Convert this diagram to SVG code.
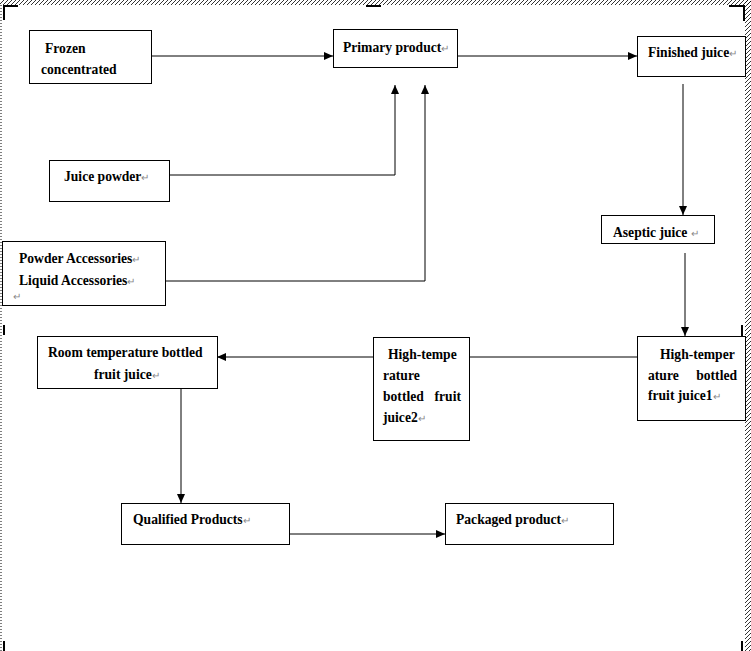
<svg xmlns="http://www.w3.org/2000/svg" width="751" height="651" viewBox="0 0 751 651">
<defs>
<marker id="ah" markerWidth="10" markerHeight="8" refX="9" refY="4" orient="auto" markerUnits="userSpaceOnUse">
<path d="M0,0 L9,4 L0,8 Z" fill="#000"/>
</marker>
<pattern id="hatch" width="4" height="4" patternUnits="userSpaceOnUse">
<path d="M0,4 L4,0" stroke="#000" stroke-width="0.8"/>
</pattern>
</defs>
<style>
.box{fill:#fff;stroke:#000;stroke-width:1}
.t{font-family:"Liberation Serif","Times New Roman",serif;font-size:13.6px;font-weight:bold;fill:#000}
.pm{font-weight:normal;fill:#888;font-size:10px}
.c{fill:none;stroke:#000;stroke-width:1}
.h{fill:#000}
</style>
<rect width="751" height="651" fill="#fff"/>
<g id="frame">
<rect x="0" y="0" width="751" height="5" fill="url(#hatch)"/>
<rect x="745" y="0" width="6" height="651" fill="url(#hatch)"/>
<line x1="1" y1="5" x2="1" y2="651" stroke="#000" stroke-width="1" stroke-dasharray="1,2"/>
<path class="h" d="M3,5 h15 v2 h-13 v13 h-2 Z"/>
<rect class="h" x="366" y="5" width="15" height="2"/>
<path class="h" d="M729,5 h16 v16 h-2 v-14 h-14 Z"/>
<rect class="h" x="3" y="325" width="2" height="10"/>
<rect class="h" x="741" y="325" width="2" height="12"/>
<rect class="h" x="3" y="641" width="2" height="10"/>
<rect class="h" x="741" y="641" width="2" height="10"/>
</g>
<g id="connectors">
<line class="c" x1="151" y1="56" x2="333" y2="56" marker-end="url(#ah)"/>
<line class="c" x1="457" y1="56" x2="637" y2="56" marker-end="url(#ah)"/>
<polyline class="c" points="169,175 395,175 395,85" marker-end="url(#ah)"/>
<polyline class="c" points="165,281 425,281 425,85" marker-end="url(#ah)"/>
<line class="c" x1="683" y1="84" x2="683" y2="215" marker-end="url(#ah)"/>
<line class="c" x1="685" y1="253" x2="685" y2="336" marker-end="url(#ah)"/>
<line class="c" x1="469" y1="357" x2="637" y2="357"/>
<line class="c" x1="373" y1="357" x2="217" y2="357" marker-end="url(#ah)"/>
<line class="c" x1="181" y1="388" x2="181" y2="503" marker-end="url(#ah)"/>
<line class="c" x1="289" y1="534" x2="445" y2="534" marker-end="url(#ah)"/>
</g>
<g id="frozen">
<rect class="box" x="29.5" y="30.5" width="122" height="53"/>
<text class="t" x="45" y="53">Frozen</text>
<text class="t" x="41" y="74">concentrated</text>
</g>
<g id="primary">
<rect class="box" x="333.5" y="29.5" width="124" height="38"/>
<text class="t" x="343" y="52">Primary product<tspan class="pm">↵</tspan></text>
</g>
<g id="finished">
<rect class="box" x="637.5" y="36.5" width="108" height="40"/>
<text class="t" x="648" y="57">Finished juice<tspan class="pm">↵</tspan></text>
</g>
<g id="powder">
<rect class="box" x="49.5" y="160.5" width="120" height="41"/>
<text class="t" x="64" y="181">Juice powder<tspan class="pm">↵</tspan></text>
</g>
<g id="accessories">
<rect class="box" x="2.5" y="241.5" width="163" height="64"/>
<text class="t" x="19" y="263">Powder Accessories<tspan class="pm">↵</tspan></text>
<text class="t" x="19" y="285">Liquid Accessories<tspan class="pm">↵</tspan></text>
<text class="t pm" x="13" y="300" font-size="7">↵</text>
</g>
<g id="aseptic">
<rect class="box" x="601.5" y="215.5" width="113" height="28"/>
<text class="t" x="613" y="237">Aseptic juice <tspan class="pm">↵</tspan></text>
</g>
<g id="high1">
<rect class="box" x="637.5" y="336.5" width="108" height="84"/>
<text class="t" x="660" y="359">High-temper</text>
<text class="t" x="648" y="380">ature</text>
<text class="t" x="737" y="380" text-anchor="end">bottled</text>
<text class="t" x="648" y="400">fruit juice1<tspan class="pm">↵</tspan></text>
</g>
<g id="high2">
<rect class="box" x="373.5" y="337.5" width="96" height="103"/>
<text class="t" x="388" y="359">High-tempe</text>
<text class="t" x="383" y="380">rature</text>
<text class="t" x="383" y="401">bottled</text>
<text class="t" x="461" y="401" text-anchor="end">fruit</text>
<text class="t" x="383" y="422">juice2<tspan class="pm">↵</tspan></text>
</g>
<g id="room">
<rect class="box" x="37.5" y="336.5" width="180" height="52"/>
<text class="t" x="48" y="357">Room temperature bottled</text>
<text class="t" x="94" y="379">fruit juice<tspan class="pm">↵</tspan></text>
</g>
<g id="qualified">
<rect class="box" x="121.5" y="503.5" width="168" height="41"/>
<text class="t" x="133" y="524">Qualified Products<tspan class="pm">↵</tspan></text>
</g>
<g id="packaged">
<rect class="box" x="445.5" y="503.5" width="168" height="41"/>
<text class="t" x="456" y="524">Packaged product<tspan class="pm">↵</tspan></text>
</g>
</svg>
